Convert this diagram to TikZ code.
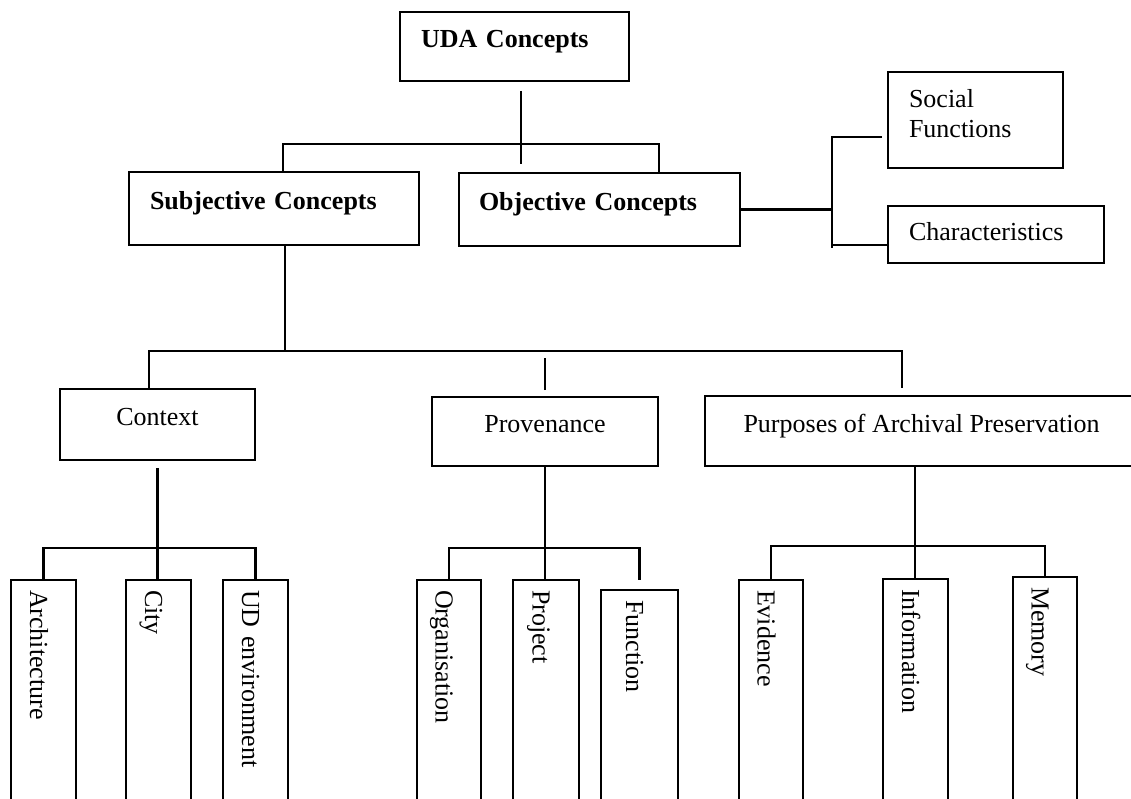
\documentclass[tikz,border=0pt]{standalone}
\usepackage{fontspec}
\setmainfont{Liberation Serif}

\begin{document}
\begin{tikzpicture}[x=1pt,y=-1pt,box/.style={draw,line width=2.6pt,outer sep=0pt,anchor=north west,align=left,inner xsep=21pt,inner ysep=0pt,font=\fontsize{26}{30}\selectfont},hi/.style={text height=18pt,text depth=16pt},leaf/.style={draw,line width=2.6pt,outer sep=0pt,rotate=-90,anchor=west,minimum width=260pt,text width=240pt,inner xsep=10pt,inner ysep=0pt,align=left,text height=29pt,text depth=2pt,font=\fontsize{26}{30}\selectfont},link/.style={line width=2.4pt}]
\useasboundingbox (0,0) rectangle (1131,799);
\clip (0,0) rectangle (1131,799);
\node[box,hi,minimum width=229pt,minimum height=69pt,text width=187pt] (uda) at (400,12) {\textbf{UDA Concepts}};
\node[box,hi,minimum width=290pt,minimum height=73pt,text width=248pt] (subj) at (129,172) {\textbf{Subjective Concepts}};
\node[box,hi,minimum width=281pt,minimum height=73pt,inner xsep=20pt,text width=241pt] (obj) at (459,173) {\textbf{Objective Concepts}};
\node[box,text height=18pt,text depth=42pt,minimum width=175pt,minimum height=96pt,text width=133pt] (social) at (888,72) {Social\\Functions};
\node[box,text height=18pt,text depth=5pt,minimum width=216pt,minimum height=57pt,text width=174pt] (char) at (888,206) {Characteristics};
\node[box,hi,align=center,minimum width=195pt,minimum height=71pt] (ctx) at (60,389) {Context};
\node[box,hi,align=center,minimum width=226pt,minimum height=69pt] (prov) at (432,397) {Provenance};
\node[box,hi,align=center,minimum width=433pt,minimum height=70pt] (purp) at (705,396) {Purposes of Archival Preservation};
\node[leaf,minimum height=65pt] (arch) at (43.5,580) {Architecture};
\node[leaf,minimum height=65pt] (city) at (158.5,580) {City};
\node[leaf,minimum height=65pt] (udenv) at (255.5,580) {UD environment};
\node[leaf,minimum height=64pt] (org) at (449,580) {Organisation};
\node[leaf,minimum height=66pt] (project) at (546,580) {Project};
\node[leaf,minimum height=77pt] (func) at (639.5,590) {Function};
\node[leaf,minimum height=64pt] (evid) at (771,580) {Evidence};
\node[leaf,minimum height=65pt] (info) at (915.5,579) {Information};
\node[leaf,minimum height=64pt] (mem) at (1045,577) {Memory};
\coordinate (udaj) at (521,144);\coordinate (socj) at (832,137);\coordinate (charj) at (832,245);
\coordinate (subjj) at (285,351);\coordinate (ctxj) at (157.5,548);\coordinate (provj) at (545,548);\coordinate (purpj) at (915,546);
\draw[link] ([yshift=-10pt]uda.south -| udaj)--([yshift=-20pt]udaj);
\draw[link] ([xshift=9pt]subj.north) |- (udaj) -| ([xshift=59.5pt]obj.north);
\draw[link] (obj.east)--(obj.east -| socj);
\draw[link] ([xshift=-6pt]socj -| social.west)--(socj)--([yshift=-3pt]charj);\draw[link] (charj)--(charj -| char.west);
\draw[link] ([xshift=11pt]subj.south)--(subjj);
\draw[link] ([xshift=-8.5pt]ctx.north) |- (subjj) -| ([xshift=-19.5pt,yshift=8pt]purp.north);
\draw[link] ([yshift=7pt]prov.north)--([yshift=39pt]prov.north);
\draw[link] ([yshift=-8pt]ctx.south)--(ctxj)--(ctxj |- city.west);
\draw[link] (arch.west) |- (ctxj) -| (udenv.west);
\draw[link] (prov.south)--(provj)--(provj |- project.west);
\draw[link] (org.west) |- (provj) -| ([yshift=10pt]func.west);
\draw[link] (purpj |- purp.south)--(purpj)--(purpj |- info.west);
\draw[link] (evid.west) |- (purpj) -| (mem.west);
\end{tikzpicture}
\end{document}
